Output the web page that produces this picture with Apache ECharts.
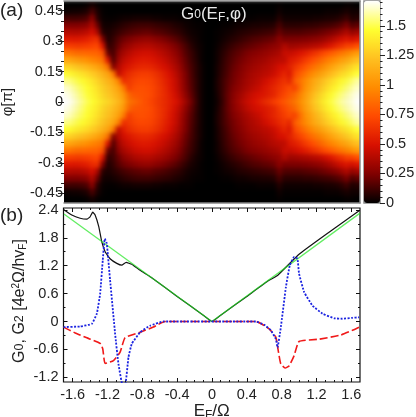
<!DOCTYPE html>
<html>
<head>
<meta charset="utf-8">
<script src="https://cdn.jsdelivr.net/npm/echarts@6/dist/echarts.min.js"></script>
<style>
html,body{margin:0;padding:0;background:#fff;}
#wrap{position:relative;width:416px;height:417px;overflow:hidden;}
#heat,#front{position:absolute;left:0;top:0;width:416px;height:417px;}
#clip{position:absolute;left:0;top:0;width:416px;height:417px;clip-path:inset(1px 56px 214px 64px);}
#heat{filter:blur(2px);}
</style>
</head>
<body>
<div id="wrap">
<div id="clip"><div id="heat"></div></div>
<div id="front"></div>
</div>
<script>
// panel (a): G0 x100, rows from phi=+0.48 down to phi=0, columns E=-1.7..1.7
const g0Row00=[0,0,0,0,1,4,1,0,0,0,0,0,0,0,0,0,0,0,0,0,0,0,0,0,0,0,0,0,0,0,0,0,0,0,0,0,0,0,0,0,0,1,0,0,0,0,0,0,0,0,0,0,0,0,1,1,0]
const g0Row01=[2,3,3,4,6,14,5,1,0,0,0,0,0,0,0,0,0,0,0,0,0,0,0,0,0,0,0,0,0,0,0,0,0,0,0,0,0,0,0,0,0,3,1,1,1,1,1,1,1,1,2,2,2,3,5,3,3]
const g0Row02=[12,12,12,13,15,28,8,2,1,1,2,3,3,4,4,4,4,3,3,2,2,2,1,1,1,0,0,0,0,0,0,0,0,1,1,1,1,2,2,2,2,7,3,3,3,3,3,3,4,4,5,5,6,8,12,6,7]
const g0Row03=[25,25,25,26,28,38,20,4,3,4,6,8,10,11,12,12,12,11,10,9,8,6,5,3,2,1,1,0,0,0,1,1,2,3,3,4,5,5,6,6,7,14,8,8,8,8,9,9,10,11,12,13,15,18,24,15,18]
const g0Row04=[38,38,38,39,41,48,35,8,5,7,10,13,15,17,18,19,19,17,16,14,12,10,8,5,3,2,1,0,0,1,2,3,4,6,7,8,9,10,11,12,13,20,15,15,15,15,16,17,18,20,22,24,27,32,38,30,34]
const g0Row05=[52,52,52,53,55,60,62,25,6,10,16,21,24,27,29,30,30,28,26,23,20,17,13,9,5,3,1,0,0,1,3,5,7,9,11,13,15,16,18,19,21,28,23,24,24,24,25,26,28,30,33,37,42,47,52,47,52]
const g0Row06=[68,68,67,67,68,70,72,50,10,12,20,28,32,36,38,39,39,37,35,32,28,24,19,14,8,4,2,0,0,2,5,8,11,14,16,18,20,22,24,26,28,30,38,33,34,35,36,38,40,43,47,52,58,63,70,70,76]
const g0Row07=[90,88,86,85,84,83,82,76,20,13,27,35,40,44,46,47,47,45,42,38,34,29,23,16,11,6,2,0,0,3,7,11,15,18,21,24,26,28,30,32,34,36,44,44,47,50,54,59,64,70,75,80,85,90,95,100,105]
const g0Row08=[110,108,105,102,99,95,92,88,50,15,32,41,46,50,52,53,52,50,47,43,38,33,26,19,12,7,2,0,0,3,8,13,17,21,24,27,30,32,34,37,39,41,42,52,55,60,66,72,78,84,90,95,100,106,111,117,122]
const g0Row09=[130,128,125,121,117,113,108,102,88,25,38,47,52,56,58,59,58,56,52,48,43,37,30,21,14,8,3,0,0,4,9,14,19,23,27,30,33,35,38,40,43,48,50,56,64,70,77,84,90,96,102,108,114,120,126,131,136]
const g0Row10=[146,143,140,136,132,127,122,116,109,92,42,54,61,65,67,68,67,64,60,54,48,41,33,24,15,8,3,0,0,4,10,15,21,25,29,33,36,38,41,43,46,52,58,52,72,80,88,95,102,108,114,120,126,132,137,142,148]
const g0Row11=[157,154,150,146,141,136,130,124,117,110,95,62,66,70,72,72,71,68,63,57,51,44,35,25,16,9,3,0,0,5,11,17,22,27,31,35,38,41,46,50,54,59,64,58,80,88,97,105,113,120,126,132,138,144,149,154,160]
const g0Row12=[165,161,156,151,146,141,135,129,123,116,108,92,68,74,75,75,73,70,65,59,52,45,36,26,17,9,3,0,0,5,11,18,24,29,33,37,41,44,50,54,58,63,68,74,70,86,100,108,117,125,132,138,144,150,155,160,165]
const g0Row13=[169,165,160,154,148,143,138,132,126,120,113,103,85,78,77,76,74,70,65,60,54,47,39,29,19,10,3,0,0,4,11,19,26,32,37,42,46,49,52,55,58,66,72,78,84,94,105,114,124,132,139,145,151,156,161,165,169]
const g0Row14=[171,168,163,157,151,146,141,136,131,125,118,108,90,85,80,76,72,68,64,60,55,50,43,33,22,11,3,0,0,3,10,19,27,34,40,45,49,53,59,63,68,73,78,84,90,98,108,118,128,136,143,149,155,160,164,167,171]

// panel (a) ticks
const phiTicks=[-0.45,-0.3,-0.15,0,0.15,0.3,0.45]
const phiMinorTicks=[-0.45,-0.4,-0.35,-0.3,-0.25,-0.2,-0.15,-0.1,-0.05,0,0.05,0.1,0.15,0.2,0.25,0.3,0.35,0.4,0.45]
const barTicks=[0,0.25,0.5,0.75,1,1.25,1.5]
const barMinorTicks=[0,0.05,0.1,0.15,0.2,0.25,0.3,0.35,0.4,0.45,0.5,0.55,0.6,0.65,0.7,0.75,0.8,0.85,0.9,0.95,1,1.05,1.1,1.15,1.2,1.25,1.3,1.35,1.4,1.45,1.5,1.55,1.6,1.65,1.7]
const hotColors=['#000000','#800000','#d81000','#ff4a00','#ff8c00','#ffc020','#ffff30','#ffffff']

// panel (b) ticks
const eTicks=[-1.6,-1.2,-0.8,-0.4,0,0.4,0.8,1.2,1.6]
const eMinorTicks=[-1.6,-1.5,-1.4,-1.3,-1.2,-1.1,-1,-0.9,-0.8,-0.7,-0.6,-0.5,-0.4,-0.3,-0.2,-0.1,0,0.1,0.2,0.3,0.4,0.5,0.6,0.7,0.8,0.9,1,1.1,1.2,1.3,1.4,1.5,1.6]
const gTicks=[-1.2,-0.6,0,0.6,1.2,1.8,2.4]
const gMinorTicks=[-0.9,-0.3,0.3,0.9,1.5,2.1]

// panel (b) curves, [E, G]
const greenLine=[[-1.7,2.31],[0,0],[1.7,2.33]]
const blackLine=[[-1.705,2.41],[-1.61,2.29],[-1.514,2.22],[-1.437,2.2],[-1.4,2.25],[-1.37,2.35],[-1.342,2.29],[-1.3,2.04],[-1.265,1.71],[-1.227,1.5],[-1.17,1.35],[-1.093,1.25],[-1.036,1.21],[-0.986,1.27],[-0.921,1.23],[-0.825,1.1],[-0.7,0.95],[-0.4,0.54],[-0.1,0.135],[0,0],[0.1,0.135],[0.4,0.54],[0.65,0.88],[0.753,0.99],[1,1.447],[1.3,1.86],[1.69,2.38]]
const redLine=[[-1.705,-0.12],[-1.571,-0.245],[-1.437,-0.35],[-1.284,-0.47],[-1.254,-0.59],[-1.227,-0.9],[-1.131,-0.84],[-1.055,-0.66],[-0.998,-0.35],[-0.825,-0.23],[-0.673,-0.12],[-0.54,0],[0.505,0],[0.657,-0.16],[0.734,-0.34],[0.764,-0.66],[0.79,-0.91],[0.84,-1],[0.887,-0.95],[0.944,-0.73],[1,-0.43],[1.23,-0.38],[1.48,-0.29],[1.613,-0.19],[1.69,-0.12]]
const blueLine=[[-1.705,-0.12],[-1.514,-0.107],[-1.38,-0.05],[-1.322,0.17],[-1.284,0.6],[-1.254,1.32],[-1.231,1.78],[-1.208,1.68],[-1.17,0.89],[-1.112,-0.27],[-1.074,-0.91],[-1.024,-1.4],[-0.998,-1.4],[-0.959,-0.77],[-0.921,-0.48],[-0.825,-0.23],[-0.711,-0.09],[-0.558,0],[0.505,0],[0.6,-0.07],[0.677,-0.19],[0.734,-0.38],[0.753,-0.56],[0.791,-0.12],[0.849,0.74],[0.894,1.21],[0.944,1.39],[0.982,1.35],[1,1.03],[1.059,0.63],[1.155,0.34],[1.269,0.17],[1.403,0.07],[1.498,0.06],[1.613,0.08],[1.69,0.09]]

const upperRows=[g0Row00,g0Row01,g0Row02,g0Row03,g0Row04,g0Row05,g0Row06,g0Row07,g0Row08,g0Row09,g0Row10,g0Row11,g0Row12,g0Row13,g0Row14]
// the map is symmetric in phi; outer columns repeated so the blur has no edge
const allRows=upperRows.concat(upperRows.slice(0,-1).reverse()).map(r=>[r[0]].concat(r,r[r.length-1]))
const heatData=[]
allRows.forEach((r,j)=>r.forEach((v,i)=>heatData.push([i,allRows.length-1-j,v/100])))

const font='"Liberation Sans",Arial,sans-serif'
const txt='#222'

let heatChart=echarts.init(document.getElementById('heat'))
heatChart.setOption({
  animation:false,
  backgroundColor:'#000',
  grid:{left:64-296/57,top:1,width:296+2*296/57,height:202,outerBoundsMode:'none'},
  xAxis:{type:'category',data:allRows[0].map((v,i)=>i),show:false},
  yAxis:{type:'category',data:allRows.map((v,i)=>i),show:false},
  visualMap:{show:false,min:0,max:1.71,inRange:{color:hotColors}},
  series:[{type:'heatmap',data:heatData,progressive:0}]
})

function tickAxis(grid,pos,min,max,vals,len,inside,color){
  return {
    type:'value',gridIndex:grid,position:pos,min:min,max:max,
    axisLine:{show:false,onZero:false},
    axisTick:{show:true,inside:inside,length:len,customValues:vals,lineStyle:{color:color,width:1}},
    axisLabel:{show:false},splitLine:{show:false}
  }
}
function labelAxis(grid,pos,min,max,vals,len,inside,color,margin){
  let a=tickAxis(grid,pos,min,max,vals,len,inside,color)
  a.axisLabel={show:true,customValues:vals,margin:margin,color:txt,fontSize:14.5,fontFamily:font,hideOverlap:false}
  return a
}
function frameAxis(grid,pos,min,max){
  return {
    type:'value',gridIndex:grid,position:pos,min:min,max:max,
    axisLine:{show:true,onZero:false,lineStyle:{color:'#888',width:1.5}},
    axisTick:{show:false},axisLabel:{show:false},splitLine:{show:false}
  }
}
const eMin=-1.705,eMax=1.7
const gMin=-1.3,gMax=2.44
const phiMax=0.4975
const barMax=1.71

const xMain=labelAxis(1,'bottom',eMin,eMax,eTicks,4,true,'#111',5)
xMain.name='{g|E}{f|F}{g|/Ω}'
xMain.nameLocation='middle'
xMain.nameGap=17
xMain.nameTextStyle={rich:{g:{fontSize:17,fontFamily:font,color:txt},f:{fontSize:12,fontFamily:font,color:txt,padding:[8,0,0,0]}}}

const yMain=labelAxis(1,'left',gMin,gMax,gTicks,4,true,'#111',5)

const phiAxis=labelAxis(0,'left',-phiMax,phiMax,phiTicks,6,false,'#222',1)
phiAxis.name='φ[π]'
phiAxis.nameLocation='middle'
phiAxis.nameGap=49
phiAxis.nameTextStyle={fontSize:15,fontFamily:font,color:txt}

const barAxis=labelAxis(2,'right',0,barMax,barTicks,5,false,'#222',6)

let myChart=echarts.init(document.getElementById('front'))
myChart.setOption({
  animation:false,
  backgroundColor:'transparent',
  title:[
    {text:'(a)',left:0,top:1,padding:0,textStyle:{fontSize:19,fontWeight:'normal',fontFamily:font,color:txt}},
    {text:'(b)',left:0,top:206,padding:0,textStyle:{fontSize:19,fontWeight:'normal',fontFamily:font,color:txt}},
    {text:'{g|G}{s|0}{g|(E}{f|F}{g|,φ)}',left:181,top:5,padding:0,textStyle:{rich:{
      g:{fontSize:17,fontWeight:'normal',fontFamily:font,color:'#e8e8e8'},
      s:{fontSize:12,fontWeight:'normal',fontFamily:font,color:'#e8e8e8'},
      f:{fontSize:12,fontWeight:'normal',fontFamily:font,color:'#e8e8e8',padding:[7,0,0,0]}
    }}}
  ],
  graphic:[{
    type:'text',x:20,y:301,rotation:Math.PI/2,
    style:{
      text:'{g|G}{s|0}{g|, G}{s|2}{g| [4e}{u|2}{g|Ω/hv}{f|F}{g|]}',
      align:'center',verticalAlign:'middle',
      rich:{
        g:{fontSize:16,fontFamily:font,fill:txt},
        s:{fontSize:12.5,fontFamily:font,fill:txt},
        u:{fontSize:10,fontFamily:font,fill:txt,padding:[0,0,8,0]},
        f:{fontSize:10,fontFamily:font,fill:txt,padding:[7,0,0,0]}
      }
    }
  }],
  grid:[
    {left:64,top:1,width:296,height:202,outerBoundsMode:'none',show:false},
    {left:63.5,top:208,width:296.5,height:174,outerBoundsMode:'none',show:true,backgroundColor:'transparent',borderColor:'#111',borderWidth:1.2},
    {left:364,top:1,width:16,height:202,outerBoundsMode:'none',show:true,backgroundColor:'transparent',borderColor:'#888',borderWidth:1.5}
  ],
  xAxis:[
    xMain,
    tickAxis(1,'bottom',eMin,eMax,eMinorTicks,2,true,'#111'),
    tickAxis(1,'top',eMin,eMax,eTicks,4,true,'#111'),
    tickAxis(1,'top',eMin,eMax,eMinorTicks,2,true,'#111'),
    frameAxis(0,'bottom',eMin,eMax),
    frameAxis(0,'top',eMin,eMax),
    {type:'value',gridIndex:2,show:false,min:0,max:1}
  ],
  yAxis:[
    yMain,
    tickAxis(1,'left',gMin,gMax,gMinorTicks,2,true,'#111'),
    tickAxis(1,'right',gMin,gMax,gTicks,4,true,'#111'),
    tickAxis(1,'right',gMin,gMax,gMinorTicks,2,true,'#111'),
    phiAxis,
    tickAxis(0,'left',-phiMax,phiMax,phiMinorTicks,3,false,'#222'),
    frameAxis(0,'right',-phiMax,phiMax),
    barAxis,
    tickAxis(2,'right',0,barMax,barMinorTicks,2.5,false,'#222')
  ],
  visualMap:{
    type:'continuous',show:true,seriesIndex:[],min:0,max:barMax,left:364,top:1,
    itemWidth:16,itemHeight:202,padding:0,text:null,showLabel:false,calculable:false,
    hoverLink:false,inRange:{color:hotColors},borderWidth:0
  },
  series:[
    {name:'G0',type:'line',xAxisIndex:0,yAxisIndex:0,data:blackLine,showSymbol:false,smooth:0.1,lineStyle:{color:'#111',width:1.2}},
    {name:'G0 linear',type:'line',xAxisIndex:0,yAxisIndex:0,data:greenLine,showSymbol:false,lineStyle:{color:'#22e622',width:1.3,opacity:0.7}},
    {name:'G2 red',type:'line',xAxisIndex:0,yAxisIndex:0,data:redLine,showSymbol:false,smooth:0.15,lineStyle:{color:'#f01818',width:1.6,type:[8,3]}},
    {name:'G2 blue',type:'line',xAxisIndex:0,yAxisIndex:0,data:blueLine,showSymbol:false,smooth:0.1,lineStyle:{color:'#1a22e0',width:1.8,type:[2,1.5]}}
  ]
})
</script>
</body>
</html>
